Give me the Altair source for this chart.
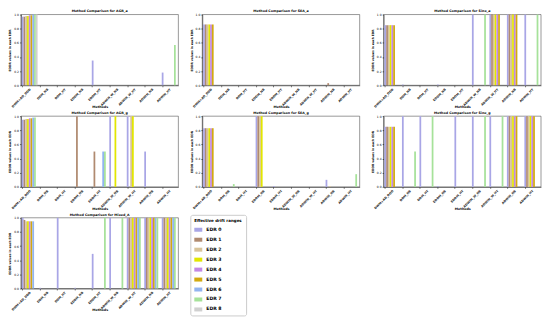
import altair as alt
import pandas as pd

METHODS = ["DWM+AD_DDD", "DDM_NB", "DDM_HT", "EDDM_NB", "EDDM_HT",
           "ADWIN_W_NB", "ADWIN_W_HT", "ADWIN_NB", "ADWIN_HT"]
EDRS = [f"EDR {i}" for i in range(9)]
COLORS = ["#a9a6e6", "#b08a70", "#d8c49a", "#e2e600", "#c288e6",
          "#d2aa10", "#92b4f0", "#a6e29a", "#d0d0d0"]

Z = [0, 0, 0, 0, 0, 0, 0, 0, 0]

AGR_a = [
    [0.97, 0.97, 0.98, 0.98, 0.99, 0.99, 1.0, 1.0, 1.0],
    Z, Z, Z,
    [0.35, 0, 0, 0, 0, 0, 0, 0, 0],
    Z, Z, Z,
    [0.18, 0, 0, 0, 0, 0, 0, 0.57, 0],
]
SEA_a = [
    [0.86, 0.86, 0.86, 0.86, 0.86, 0.86, 0, 0, 0],
    Z, Z, Z, Z, Z, Z,
    [0, 0.03, 0, 0, 0, 0, 0, 0, 0],
    Z,
]
Sine_a = [
    [0.85, 0.85, 0.85, 0.85, 0.85, 0.85, 0, 0, 0],
    [0.01, 0, 0, 0, 0, 0, 0, 0, 0],
    Z,
    [0.01, 0, 0, 0, 0, 0, 0, 0, 0],
    Z,
    [1.0, 0, 0, 0, 0, 0, 0, 1.0, 0],
    [1.0, 1.0, 1.0, 1.0, 1.0, 1.0, 0, 0, 0],
    [1.0, 1.0, 1.0, 1.0, 1.0, 1.0, 0, 0, 0],
    [1.0, 0, 0, 0, 0, 0, 0, 1.0, 0],
]
AGR_g = [
    [0.95, 0.95, 0.96, 0.96, 0.97, 0.97, 0.98, 0.98, 0],
    Z, Z,
    [0, 1.0, 0, 0, 0, 0, 0, 0, 0],
    [0, 0.5, 0, 0, 0, 0, 0.5, 0.5, 0],
    [1.0, 0, 0, 1.0, 0, 0, 0, 0, 0],
    [1.0, 0, 1.0, 1.0, 0, 0, 0, 0, 0],
    [0.5, 0, 0, 0, 0, 0, 0, 0, 0],
    Z,
]
SEA_g = [
    [0.83, 0.83, 0.83, 0.83, 0.83, 0.83, 0, 0, 0],
    [0, 0, 0, 0, 0, 0, 0, 0.04, 0],
    Z,
    [1.0, 1.0, 1.0, 1.0, 0, 0, 0, 0, 0],
    [0.01, 0, 0, 0, 0, 0, 0, 0, 0],
    Z, Z,
    [0.1, 0, 0.01, 0, 0, 0, 0, 0, 0],
    [0, 0, 0, 0, 0, 0, 0, 0.18, 0],
]
Sine_g = [
    [0.85, 0.85, 0.85, 0.85, 0.85, 0.85, 0, 0, 0],
    [1.0, 0, 0, 0, 0, 0, 0, 0.5, 0],
    [1.0, 0, 0, 0, 0, 0, 0, 1.0, 0],
    [0.01, 0, 0, 0, 0, 0, 0, 0, 0],
    [1.0, 0, 0, 0, 0, 0, 0, 0, 0],
    [1.0, 0, 0, 0, 0, 0, 0, 1.0, 0],
    [1.0, 0, 0, 0, 0, 0, 0, 1.0, 0],
    [1.0, 1.0, 1.0, 1.0, 1.0, 1.0, 0, 0, 0],
    [1.0, 1.0, 1.0, 1.0, 1.0, 1.0, 0, 0, 0],
]
Mixed_A = [
    [1.0, 0.97, 0.95, 0.95, 0.95, 0.95, 0.95, 0, 0],
    [0.01, 0, 0, 0, 0, 0, 0, 0, 0],
    [1.0, 0, 0, 0, 0, 0, 0, 0, 0],
    [0.01, 0, 0, 0, 0, 0, 0, 0, 0],
    [0.49, 0, 0, 0, 0, 0, 0, 1.0, 0],
    [1.0, 0, 0, 0, 0, 0, 0, 1.0, 0],
    [1.0, 1.0, 1.0, 1.0, 1.0, 1.0, 1.0, 1.0, 0],
    [1.0, 1.0, 1.0, 1.0, 1.0, 1.0, 1.0, 1.0, 0],
    [1.0, 1.0, 1.0, 1.0, 1.0, 1.0, 1.0, 1.0, 0],
]

FONT = "DejaVu Sans"


def panel(name, values):
    rows = []
    for m, vals in zip(METHODS, values):
        for e, v in zip(EDRS, vals):
            rows.append({"Method": m, "EDR": e, "Value": v})
    df = pd.DataFrame(rows)
    return alt.Chart(
        df,
        title=alt.Title(f"Method Comparison for {name}", fontSize=3.3,
                        fontWeight="bold", offset=1, font=FONT),
    ).mark_bar().encode(
        x=alt.X("Method:N", sort=METHODS, title="Methods",
                scale=alt.Scale(paddingInner=0.1, paddingOuter=0.05),
                axis=alt.Axis(labelAngle=-45, bandPosition=0.056,
                              labelFontSize=3.1, labelFontWeight="bold",
                              labelPadding=1, tickSize=1.5,
                              titleFontSize=3.3, titleFontWeight="bold",
                              titlePadding=3.5, minExtent=16, maxExtent=16,
                              labelFont=FONT, titleFont=FONT,
                              labelColor="#222222", titleColor="black",
                              domainColor="black", tickColor="black",
                              domainWidth=0.5, tickWidth=0.5)),
        xOffset=alt.XOffset("EDR:N", sort=EDRS,
                            scale=alt.Scale(paddingInner=0, paddingOuter=0)),
        y=alt.Y("Value:Q", title="EDDR values in each EDR",
                scale=alt.Scale(domain=[0, 1], nice=False),
                axis=alt.Axis(values=[0, 0.2, 0.4, 0.6, 0.8, 1.0], format=".1f",
                              grid=False, labelFontSize=3, labelPadding=1,
                              tickSize=1.5, titleFontSize=3,
                              titleFontWeight="bold", titlePadding=2,
                              minExtent=7, maxExtent=7,
                              labelFont=FONT, titleFont=FONT,
                              labelColor="black", titleColor="black",
                              domainColor="black", tickColor="black",
                              domainWidth=0.5, tickWidth=0.5)),
        color=alt.Color("EDR:N", scale=alt.Scale(domain=EDRS, range=COLORS),
                        legend=None),
    ).properties(width=158, height=71)


legend_df = pd.DataFrame({"EDR": EDRS})
legend_chart = alt.Chart(legend_df).mark_square(opacity=0).encode(
    color=alt.Color(
        "EDR:N", sort=EDRS, scale=alt.Scale(domain=EDRS, range=COLORS),
        legend=alt.Legend(
            title="Effective drift ranges", orient="none", legendX=-2, legendY=-3,
            symbolType="M-1,-0.5L1,-0.5L1,0.5L-1,0.5Z", symbolSize=64,
            symbolOpacity=1, symbolStrokeWidth=0,
            titleFontSize=4, titleFont=FONT, titleFontWeight="bold",
            titleColor="black", titlePadding=3,
            labelFontSize=4.6, labelFont=FONT, labelFontWeight="bold",
            labelColor="black", labelOffset=4,
            rowPadding=4, padding=4, strokeColor="#cccccc",
            fillColor="white", cornerRadius=2,
        ),
    )
).properties(width=52, height=90, view=alt.ViewBackground(stroke=None))

row1 = alt.hconcat(panel("AGR_a", AGR_a), panel("SEA_a", SEA_a),
                   panel("Sine_a", Sine_a), spacing=10).resolve_scale(color="independent")
row2 = alt.hconcat(panel("AGR_g", AGR_g), panel("SEA_g", SEA_g),
                   panel("Sine_g", Sine_g), spacing=10).resolve_scale(color="independent")
row3 = alt.hconcat(panel("Mixed_A", Mixed_A), legend_chart,
                   spacing=10).resolve_scale(color="independent")

chart = alt.vconcat(row1, row2, row3, spacing=1).resolve_scale(
    color="independent"
).properties(padding=0).configure_view(
    stroke="#333333", strokeWidth=0.5
)

chart.save("out.html", embed_options={"renderer": "svg", "actions": False})
